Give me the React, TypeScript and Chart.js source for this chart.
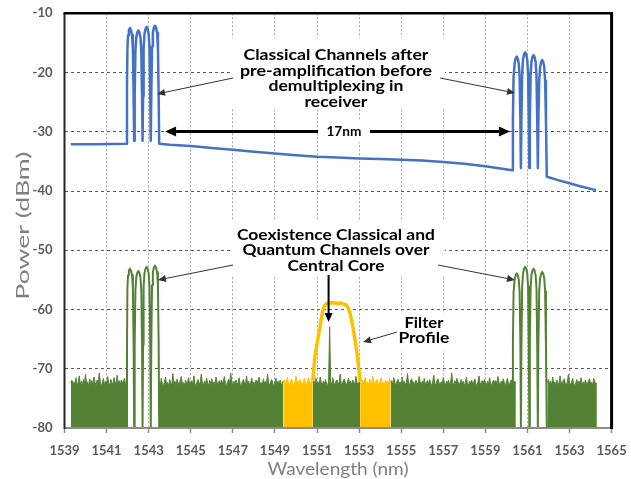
import React, { useEffect, useRef } from "react";
import { Chart, registerables } from "chart.js";

Chart.register(...registerables);

// ---------- axes ----------
const X_MIN = 1539;
const X_MAX = 1565;
const X_STEP = 2;
const Y_MIN = -80;
const Y_MAX = -10;
const Y_STEP = 10;
const X_TITLE = "Wavelength (nm)";
const Y_TITLE = "Power (dBm)";

// ---------- blue trace: classical channels after pre-amplification [nm, dBm] ----------
const blueTrace: [number, number][] = [
  [1539.3, -32.1], [1540.5, -32.1], [1541.95, -32.0],
  [1541.97, -22], [1541.99, -16], [1542.02, -13.7], [1542.06, -12.8], [1542.11, -12.5], [1542.16, -12.8], [1542.21, -13.7], [1542.25, -16.0], [1542.285, -24], [1542.31, -31.5],
  [1542.335, -24], [1542.37, -16.4], [1542.41, -14.1], [1542.46, -13.2], [1542.51, -12.9], [1542.56, -13.2], [1542.61, -14.1], [1542.65, -16.4], [1542.685, -24], [1542.71, -31.5],
  [1542.735, -24], [1542.76, -15.8], [1542.8, -13.5], [1542.85, -12.6], [1542.9, -12.3], [1542.95, -12.6], [1543.0, -13.5], [1543.04, -15.8], [1543.075, -24], [1543.1, -31.5],
  [1543.125, -24], [1543.16, -15.6], [1543.2, -13.3], [1543.25, -12.4], [1543.3, -12.1], [1543.35, -12.4], [1543.4, -13.3], [1543.44, -15.6], [1543.475, -24], [1543.5, -32.0],
  [1544.0, -32.2], [1545.0, -32.4], [1546.0, -32.75], [1547.0, -33.05], [1548.0, -33.35], [1549.0, -33.65], [1550.0, -33.95],
  [1551.0, -34.2], [1552.0, -34.35], [1553.0, -34.5], [1554.0, -34.6], [1555.0, -34.7], [1556.0, -34.85], [1557.0, -35.1],
  [1558.0, -35.4], [1559.0, -35.8], [1560.28, -36.5],
  [1560.31, -28], [1560.34, -20.8], [1560.39, -18.5], [1560.44, -17.6], [1560.49, -17.3], [1560.54, -17.6], [1560.59, -18.5], [1560.63, -20.8], [1560.665, -28], [1560.69, -36.1],
  [1560.715, -28], [1560.75, -20.1], [1560.79, -17.8], [1560.84, -16.9], [1560.89, -16.6], [1560.94, -16.9], [1560.99, -17.8], [1561.03, -20.1], [1561.065, -28], [1561.09, -36.1],
  [1561.115, -28], [1561.15, -20.55], [1561.19, -18.25], [1561.24, -17.35], [1561.29, -17.05], [1561.34, -17.35], [1561.39, -18.25], [1561.43, -20.55], [1561.465, -28], [1561.495, -36.1],
  [1561.52, -28], [1561.56, -21.4], [1561.6, -19.1], [1561.65, -18.2], [1561.7, -17.9], [1561.75, -18.2], [1561.8, -19.1], [1561.84, -21.4], [1561.88, -28], [1561.92, -37.6],
  [1562.5, -38.2], [1563.0, -38.7], [1563.5, -39.2], [1564.26, -39.85],
];

// ---------- green: classical channels over central core [nm, dBm] ----------
const greenLeftChannels: [number, number][] = [
  [1541.95, -80],
  [1541.97, -66], [1541.99, -56.4], [1542.02, -54.2], [1542.06, -53.4], [1542.11, -53.1], [1542.16, -53.4], [1542.21, -54.2], [1542.25, -56.4], [1542.285, -66], [1542.31, -80],
  [1542.335, -66], [1542.37, -56.8], [1542.41, -54.6], [1542.46, -53.8], [1542.51, -53.5], [1542.56, -53.8], [1542.61, -54.6], [1542.65, -56.8], [1542.685, -66], [1542.71, -80],
  [1542.735, -66], [1542.76, -56.1], [1542.8, -53.9], [1542.85, -53.1], [1542.9, -52.8], [1542.95, -53.1], [1543.0, -53.9], [1543.04, -56.1], [1543.075, -66], [1543.1, -80],
  [1543.125, -66], [1543.16, -55.9], [1543.2, -53.7], [1543.25, -52.9], [1543.3, -52.6], [1543.35, -52.9], [1543.4, -53.7], [1543.44, -55.9], [1543.475, -66], [1543.5, -80],
];
const greenRightChannels: [number, number][] = [
  [1560.28, -80],
  [1560.31, -66], [1560.34, -57.2], [1560.39, -55.0], [1560.44, -54.2], [1560.49, -53.9], [1560.54, -54.2], [1560.59, -55.0], [1560.63, -57.2], [1560.665, -66], [1560.69, -80],
  [1560.715, -66], [1560.75, -56.1], [1560.79, -53.9], [1560.84, -53.1], [1560.89, -52.8], [1560.94, -53.1], [1560.99, -53.9], [1561.03, -56.1], [1561.065, -66], [1561.09, -80],
  [1561.115, -66], [1561.15, -56.4], [1561.19, -54.2], [1561.24, -53.4], [1561.29, -53.1], [1561.34, -53.4], [1561.39, -54.2], [1561.43, -56.4], [1561.465, -66], [1561.495, -80],
  [1561.52, -66], [1561.56, -56.95], [1561.6, -54.75], [1561.65, -53.95], [1561.7, -53.65], [1561.75, -53.95], [1561.8, -54.75], [1561.84, -56.95], [1561.88, -66], [1561.92, -80],
];

// ---------- noise floor segments, sampled every 0.05 nm ----------
const NOISE_STEP = 0.05;
const greenNoiseAStart = 1539.3;
const greenNoiseA = [
  -72.4, -71.9, -72.8, -72.2, -72.6, -71.5, -72.9, -72.3, -71.2, -72.7,
  -72.1, -72.9, -71.8, -72.4, -70.9, -72.6, -72.2, -73.0, -71.7, -72.5,
  -72.0, -72.8, -71.4, -72.3, -72.7, -71.9, -72.5, -70.7, -72.2, -72.9,
  -72.4, -71.6, -72.8, -72.1, -72.6, -71.3, -72.4, -72.9, -71.8, -72.3,
  -72.7, -71.5, -72.2, -72.8, -71.1, -72.5, -72.0, -72.7, -71.9, -72.4,
  -72.1, -71.6, -72.6, -72.3,
];
const greenNoiseB1Start = 1543.5;
const greenNoiseB1 = [
  -72.3, -72.8, -71.6, -72.5, -73.0, -72.1, -71.4, -72.7, -72.3, -72.9,
  -71.8, -72.4, -72.8, -70.8, -72.5, -72.1, -72.9, -71.7, -72.4, -72.6,
  -72.0, -71.3, -72.7, -72.3, -72.9, -71.9, -72.5, -72.2, -71.5, -72.8,
  -72.4, -72.0, -72.7, -71.2, -72.5, -72.9, -72.2, -71.8, -72.6, -72.3,
  -70.9, -72.4, -72.8, -72.1, -72.6, -71.6, -72.3, -72.9, -72.0, -72.5,
  -71.7, -72.8, -72.2, -72.6, -71.4, -72.3, -72.7, -72.0, -72.9, -71.9,
  -72.4, -72.1, -71.3, -72.6, -72.8, -72.2, -71.8, -72.5, -70.7, -72.3,
  -72.8, -72.1, -72.5, -71.9, -72.7, -72.3, -71.5, -72.6, -72.9, -72.2,
  -71.8, -72.4, -72.7, -71.2, -72.5, -72.1, -72.8, -72.3, -71.6, -72.6,
  -72.2, -72.9, -71.9, -72.4, -72.0, -71.4, -72.7, -72.3, -72.8, -71.7,
  -72.5, -72.1, -72.6, -70.9, -72.4, -72.8, -72.2, -71.8, -72.5, -72.9,
  -72.3, -71.6, -72.7, -72.1, -72.5, -71.9, -72.8, -72.4, -72.0,
];
const yellowNoiseLStart = 1549.4;
const yellowNoiseL = [
  -72.5, -71.9, -72.7, -72.2, -71.4, -72.6, -72.9, -72.1, -71.7, -72.5,
  -72.8, -72.3, -71.2, -72.6, -72.0, -72.7, -71.8, -72.4, -72.9, -72.2,
  -71.6, -72.5, -72.8, -72.1, -71.5, -72.6, -72.3, -72.0, -72.4,
];
const greenNoiseB2Start = 1550.8;
const greenNoiseB2 = [
  -72.4, -72.0, -72.7, -71.6, -72.5, -72.2, -72.8, -71.4, -72.3, -72.6,
  -72.1, -72.7, -71.8, -72.4, -72.9, -72.2, -62.9, -72.3, -72.6, -71.5,
  -72.4, -72.8, -72.1, -71.9, -72.6, -72.3, -70.9, -72.5, -72.7, -72.0,
  -71.7, -72.4, -72.8, -72.2, -71.6, -72.5, -72.1, -72.7, -71.9, -72.4,
  -72.6, -71.3, -72.3, -72.8, -72.2, -72.5,
];
const yellowNoiseRStart = 1553.05;
const yellowNoiseR = [
  -72.3, -72.8, -71.9, -72.5, -72.1, -71.4, -72.7, -72.2, -72.9, -71.7,
  -72.4, -72.6, -71.2, -72.3, -72.8, -72.0, -71.8, -72.5, -72.7, -72.1,
  -71.5, -72.6, -72.3, -72.9, -71.9, -72.4, -72.1, -72.7, -71.6, -72.5,
];
const greenNoiseB3Start = 1554.5;
const greenNoiseB3 = [
  -72.4, -72.0, -72.7, -71.5, -72.3, -72.8, -72.1, -71.8, -72.6, -72.2,
  -72.9, -71.4, -72.5, -72.1, -72.7, -72.3, -70.8, -72.4, -72.8, -72.0,
  -71.7, -72.5, -72.2, -72.9, -71.9, -72.4, -72.6, -71.3, -72.2, -72.7,
  -72.1, -72.5, -71.6, -72.8, -72.3, -72.0, -72.6, -71.8, -72.4, -72.9,
  -72.2, -71.1, -72.5, -72.7, -72.0, -71.7, -72.4, -72.8, -72.2, -72.6,
  -71.5, -72.3, -72.9, -72.1, -72.5, -71.9, -72.7, -72.3, -70.7, -72.4,
  -72.8, -72.0, -72.5, -71.6, -72.2, -72.7, -72.4, -71.8, -72.6, -72.1,
  -72.9, -72.3, -71.4, -72.5, -72.8, -72.1, -72.4, -71.9, -72.6, -72.2,
  -71.7, -72.5, -72.9, -72.2, -71.2, -72.4, -72.7, -72.0, -72.5, -71.8,
  -72.3, -72.8, -72.1, -72.6, -71.5, -72.4, -72.9, -72.2, -71.9, -72.5,
  -72.0, -72.7, -71.3, -72.4, -72.8, -72.1, -72.6, -71.7, -72.3, -72.9,
  -72.2, -71.6, -72.5, -72.8, -72.0, -71.9, -72.6, -72.3, -72.1, -72.5,
];
const greenNoiseCStart = 1561.95;
const greenNoiseC = [
  -72.3, -71.8, -72.6, -72.1, -72.8, -71.4, -72.5, -72.2, -72.9, -71.9,
  -72.4, -72.7, -71.2, -72.3, -72.6, -72.0, -71.7, -72.5, -72.8, -72.1,
  -70.9, -72.4, -72.7, -72.2, -71.6, -72.5, -72.9, -72.3, -71.8, -72.6,
  -72.1, -72.4, -71.5, -72.7, -72.2, -72.8, -71.9, -72.4, -72.6, -72.0,
  -71.7, -72.5, -72.3, -72.8, -71.6, -72.2, -72.6, -72.4,
];

// ---------- yellow: filter profile [nm, dBm] ----------
const yellowFilterHump: [number, number][] = [
  [1550.8, -72.0], [1550.86, -69.5], [1550.92, -67.5], [1551.0, -65.8], [1551.08, -64.2], [1551.14, -63.0],
  [1551.2, -61.6], [1551.27, -60.3], [1551.34, -59.5], [1551.42, -59.1], [1551.5, -58.9], [1551.6, -59.0],
  [1551.7, -58.8], [1551.8, -58.9], [1551.9, -58.9], [1552.0, -59.0], [1552.1, -58.9], [1552.2, -59.0],
  [1552.3, -59.1], [1552.4, -59.3], [1552.48, -59.7], [1552.56, -60.5], [1552.63, -61.6], [1552.7, -62.9],
  [1552.77, -64.3], [1552.84, -65.8], [1552.91, -67.6], [1552.97, -69.6], [1553.05, -72.2],
];

// ---------- annotations (data coordinates) ----------
const textBoxes: { x0: number; x1: number; y0: number; y1: number }[] = [
  { x0: 1546.87, x1: 1557.08, y0: -14.17, y1: -25.99 },
  { x0: 1546.87, x1: 1557.08, y0: -44.89, y1: -54.17 },
  { x0: 1554.85, x1: 1557.42, y0: -60.7, y1: -66.95 },
];
const label1Lines = ["Classical Channels after", "pre-amplification before", "demultiplexing in", "receiver"];
const label1Nm = 1551.9;
const label1Db = [-17.88, -20.51, -23.15, -25.78];
const label2Lines = ["Coexistence Classical and", "Quantum Channels over", "Central Core"];
const label2Nm = 1551.9;
const label2Db = [-48.27, -50.88, -53.5];
const label3Lines = ["Filter", "Profile"];
const label3Nm = 1556.08;
const label3Db = [-63.17, -65.7];
const spanLabel = "17nm";
const spanNm: [number, number] = [1543.78, 1560.17];
const spanDb = -29.95;
const spanLabelNm = 1552.28;
const spanLabelDb = -30.63;
const spanBox = { x0: 1551.05, x1: 1553.52, y0: -28.18, y1: -31.73 };
// thin pointer arrows: [fromNm, fromDb, toNm, toDb]
const thinArrows: [number, number, number, number][] = [
  [1547.01, -20.92, 1543.4, -23.62],
  [1556.85, -20.92, 1560.41, -23.45],
  [1547.01, -52.49, 1543.44, -55.02],
  [1556.75, -52.49, 1560.41, -55.02],
  [1554.8, -63.8, 1553.19, -65.49],
];
const coreArrow: [number, number, number, number] = [1551.55, -54.17, 1551.55, -62.11];

// ---------- helpers ----------
const pts = (arr: [number, number][]) => arr.map(([x, y]) => ({ x, y }));
const noisePts = (start: number, values: number[]) =>
  values.map((y, i) => ({ x: Math.round((start + i * NOISE_STEP) * 1000) / 1000, y }));

const BLUE = "#4472C4";
const GREEN = "#548235";
const YELLOW = "#FFC000";
const TXT_FONT = "Lato, 'Open Sans', sans-serif";

function drawFitted(ctx: CanvasRenderingContext2D, text: string, x: number, y: number, font: string, target: number) {
  ctx.save();
  ctx.font = font;
  const w = ctx.measureText(text).width || 1;
  ctx.translate(x, y);
  ctx.scale(target / w, 1);
  ctx.textAlign = "center";
  ctx.textBaseline = "alphabetic";
  ctx.fillText(text, 0, 0);
  ctx.restore();
}

function arrow(ctx: CanvasRenderingContext2D, x1: number, y1: number, x2: number, y2: number, lw: number, head: number, hw: number, color: string) {
  const a = Math.atan2(y2 - y1, x2 - x1);
  const bx = x2 - Math.cos(a) * head;
  const by = y2 - Math.sin(a) * head;
  ctx.save();
  ctx.strokeStyle = color;
  ctx.fillStyle = color;
  ctx.lineWidth = lw;
  ctx.beginPath();
  ctx.moveTo(x1, y1);
  ctx.lineTo(bx, by);
  ctx.stroke();
  ctx.beginPath();
  ctx.moveTo(x2, y2);
  ctx.lineTo(bx + Math.sin(a) * hw, by - Math.cos(a) * hw);
  ctx.lineTo(bx - Math.sin(a) * hw, by + Math.cos(a) * hw);
  ctx.closePath();
  ctx.fill();
  ctx.restore();
}

const overlayPlugin = {
  id: "overlay",
  beforeDatasetsDraw(chart: any) {
    const { ctx, scales } = chart;
    const xs = scales.x, ys = scales.y;
    ctx.save();
    ctx.fillStyle = "#ffffff";
    for (const b of textBoxes) {
      const x0 = xs.getPixelForValue(b.x0), x1 = xs.getPixelForValue(b.x1);
      const y0 = ys.getPixelForValue(b.y0), y1 = ys.getPixelForValue(b.y1);
      ctx.fillRect(x0, y0, x1 - x0, y1 - y0);
    }
    ctx.restore();
  },
  afterDatasetsDraw(chart: any) {
    const { ctx, scales } = chart;
    const X = (v: number) => scales.x.getPixelForValue(v);
    const Y = (v: number) => scales.y.getPixelForValue(v);

    // 17 nm double arrow
    const sy = Y(spanDb);
    const sx0 = X(spanNm[0]), sx1 = X(spanNm[1]);
    const mid = (sx0 + sx1) / 2;
    arrow(ctx, mid, sy, sx0, sy, 3, 11, 5, "#000");
    arrow(ctx, mid, sy, sx1, sy, 3, 11, 5, "#000");
    ctx.save();
    ctx.fillStyle = "#fff";
    ctx.fillRect(X(spanBox.x0), Y(spanBox.y0), X(spanBox.x1) - X(spanBox.x0), Y(spanBox.y1) - Y(spanBox.y0));
    ctx.restore();
    ctx.fillStyle = "#000";
    drawFitted(ctx, spanLabel, X(spanLabelNm), Y(spanLabelDb), `bold 13px ${TXT_FONT}`, 35);

    // thin arrows
    for (const a of thinArrows) arrow(ctx, X(a[0]), Y(a[1]), X(a[2]), Y(a[3]), 1, 8, 3.5, "#333");
    arrow(ctx, X(coreArrow[0]), Y(coreArrow[1]), X(coreArrow[2]), Y(coreArrow[3]), 2, 9, 4, "#000");

    // labels
    ctx.fillStyle = "#000";
    const w1 = [185, 192, 135, 63];
    label1Lines.forEach((t, i) => drawFitted(ctx, t, X(label1Nm), Y(label1Db[i]), `bold 16px ${TXT_FONT}`, w1[i]));
    const w2 = [198, 187, 97];
    label2Lines.forEach((t, i) => drawFitted(ctx, t, X(label2Nm), Y(label2Db[i]), `bold 16px ${TXT_FONT}`, w2[i]));
    const w3 = [39, 51];
    label3Lines.forEach((t, i) => drawFitted(ctx, t, X(label3Nm), Y(label3Db[i]), `bold 16px ${TXT_FONT}`, w3[i]));
  },
  afterDraw(chart: any) {
    const { ctx, chartArea } = chart;
    const { left, right, top, bottom } = chartArea;
    ctx.save();
    ctx.strokeStyle = "#8c8c8c";
    ctx.lineWidth = 2;
    ctx.beginPath();
    ctx.moveTo(left, bottom);
    ctx.lineTo(right, bottom);
    ctx.stroke();
    ctx.strokeStyle = "#262626";
    ctx.lineWidth = 2;
    ctx.beginPath();
    ctx.moveTo(left, top);
    ctx.lineTo(left, bottom + 1);
    ctx.stroke();
    ctx.strokeStyle = "#000";
    ctx.lineWidth = 2.5;
    ctx.beginPath();
    ctx.moveTo(left - 1, top);
    ctx.lineTo(right, top);
    ctx.stroke();
    ctx.lineWidth = 3;
    ctx.beginPath();
    ctx.moveTo(right, top - 1.2);
    ctx.lineTo(right, bottom + 1);
    ctx.stroke();
    ctx.restore();

    ctx.save();
    ctx.fillStyle = "#7f7f7f";
    drawFitted(ctx, X_TITLE, (left + right) / 2, bottom + 47, `18px ${TXT_FONT}`, 141);
    ctx.translate(left - 36, (top + bottom) / 2 + 5);
    ctx.rotate(-Math.PI / 2);
    drawFitted(ctx, Y_TITLE, 0, 0, `18px ${TXT_FONT}`, 148);
    ctx.restore();
  },
};

export default function App() {
  const ref = useRef<HTMLCanvasElement | null>(null);
  useEffect(() => {
    if (!ref.current) return;
    const noiseDs = (data: any[], color: string, order: number) => ({
      data,
      borderColor: color,
      backgroundColor: color,
      borderWidth: 1,
      fill: "start",
      pointRadius: 0,
      order,
    });
    const chart = new Chart(ref.current, {
      type: "line",
      data: {
        datasets: [
          noiseDs(noisePts(greenNoiseAStart, greenNoiseA), GREEN, 10),
          noiseDs(noisePts(greenNoiseB1Start, greenNoiseB1), GREEN, 10),
          noiseDs(noisePts(greenNoiseB2Start, greenNoiseB2), GREEN, 10),
          noiseDs(noisePts(greenNoiseB3Start, greenNoiseB3), GREEN, 10),
          noiseDs(noisePts(greenNoiseCStart, greenNoiseC), GREEN, 10),
          noiseDs(noisePts(yellowNoiseLStart, yellowNoiseL), YELLOW, 8),
          noiseDs(noisePts(yellowNoiseRStart, yellowNoiseR), YELLOW, 8),
          { data: pts(yellowFilterHump), borderColor: YELLOW, borderWidth: 3.5, fill: false, pointRadius: 0, order: 7 },
          { data: pts(greenLeftChannels), borderColor: GREEN, borderWidth: 2, fill: false, pointRadius: 0, order: 6 },
          { data: pts(greenRightChannels), borderColor: GREEN, borderWidth: 2, fill: false, pointRadius: 0, order: 6 },
          { data: pts(blueTrace), borderColor: BLUE, borderWidth: 2.5, fill: false, pointRadius: 0, order: 5 },
        ] as any,
      },
      options: {
        responsive: false,
        animation: false,
        devicePixelRatio: 1,
        layout: { padding: { left: 0, right: 19.4, top: 13.3, bottom: 0 } },
        plugins: { legend: { display: false }, tooltip: { enabled: false } },
        elements: { line: { tension: 0, borderJoinStyle: "round" as any }, point: { radius: 0 } },
        scales: {
          x: {
            type: "linear",
            min: X_MIN,
            max: X_MAX,
            afterFit: (s: any) => { s.height = 51; s.paddingLeft = 0; s.paddingRight = 0; },
            ticks: {
              stepSize: X_STEP,
              autoSkip: false,
              maxRotation: 0,
              padding: 10,
              color: "#595959",
              font: { family: TXT_FONT, size: 13, weight: "bold" },
              callback: (v: any) => String(v),
            },
            grid: { color: "#a6a6a6", lineWidth: 1, drawTicks: true, tickLength: 5, tickColor: "#8c8c8c", tickWidth: 1.5, tickBorderDash: [] },
            border: { display: false, dash: [2, 2] },
          },
          y: {
            type: "linear",
            min: Y_MIN,
            max: Y_MAX,
            afterFit: (s: any) => { s.width = 64.5; s.paddingTop = 0; s.paddingBottom = 0; },
            ticks: {
              stepSize: Y_STEP,
              padding: 12,
              color: "#595959",
              font: { family: TXT_FONT, size: 13, weight: "bold" },
              callback: (v: any) => String(v),
            },
            grid: { color: "#595959", lineWidth: 1, drawTicks: false },
            border: { display: false, dash: [3, 3] },
          },
        },
      } as any,
      plugins: [overlayPlugin],
    });
    return () => chart.destroy();
  }, []);
  return (
    <div style={{ position: "fixed", left: 0, top: 0, width: 631, height: 479, background: "#fff" }}>
      <canvas ref={ref} width={631} height={479} style={{ display: "block", width: 631, height: 479 }} />
    </div>
  );
}
